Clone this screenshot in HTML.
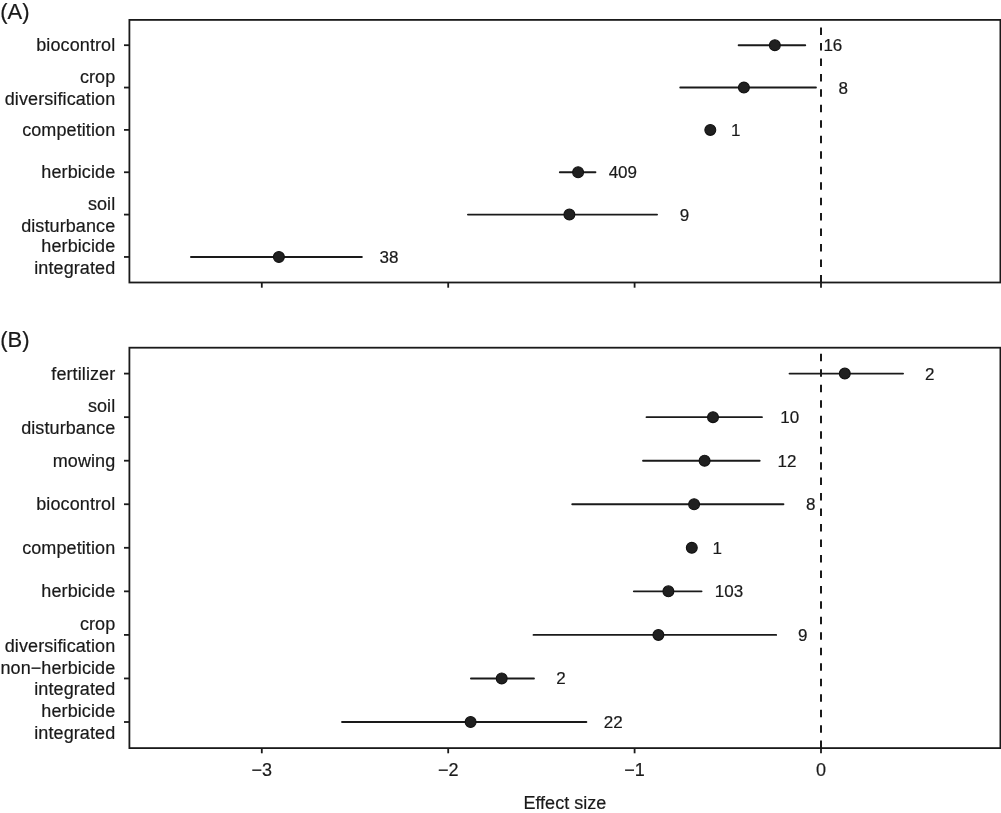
<!DOCTYPE html>
<html><head><meta charset="utf-8"><style>
html,body{margin:0;padding:0;background:#fff;}
svg{display:block;will-change:transform;}
.yl{letter-spacing:0.1px;}
text{font-family:"Liberation Sans",sans-serif;font-size:18px;fill:#1a1a1a;stroke:#1a1a1a;stroke-width:0.2px;}
</style></head><body>
<svg width="1001" height="813" viewBox="0 0 1001 813">
<rect width="1001" height="813" fill="#fff"/>
<text x="0.3" y="18.6" style="font-size:22px">(A)</text>
<line x1="821.0" y1="282.5" x2="821.0" y2="19.9" stroke="#1a1a1a" stroke-width="2" stroke-dasharray="7.5 7.97"/>
<rect x="129.4" y="19.9" width="871.0" height="262.6" fill="none" stroke="#1a1a1a" stroke-width="1.8"/>
<line x1="261.79999999999995" y1="282.5" x2="261.79999999999995" y2="287.7" stroke="#1a1a1a" stroke-width="1.8"/>
<line x1="448.2" y1="282.5" x2="448.2" y2="287.7" stroke="#1a1a1a" stroke-width="1.8"/>
<line x1="634.6" y1="282.5" x2="634.6" y2="287.7" stroke="#1a1a1a" stroke-width="1.8"/>
<line x1="821.0" y1="282.5" x2="821.0" y2="287.7" stroke="#1a1a1a" stroke-width="1.8"/>
<line x1="124.0" y1="45.2" x2="129.4" y2="45.2" stroke="#1a1a1a" stroke-width="1.8"/>
<text x="115.3" y="51.30" text-anchor="end" class="yl">biocontrol</text>
<line x1="738.6500000000001" y1="45.2" x2="805.25" y2="45.2" stroke="#1a1a1a" stroke-width="1.9" stroke-linecap="round"/>
<circle cx="774.85" cy="45.2" r="5.45" fill="#202020" stroke="#111" stroke-width="1.1"/>
<text x="832.85" y="51.20" text-anchor="middle" style="font-size:17px">16</text>
<line x1="124.0" y1="87.55000000000001" x2="129.4" y2="87.55000000000001" stroke="#1a1a1a" stroke-width="1.8"/>
<text x="115.3" y="82.80" text-anchor="end" class="yl">crop</text>
<text x="115.3" y="104.50" text-anchor="end" class="yl">diversification</text>
<line x1="680.25" y1="87.55000000000001" x2="815.9499999999999" y2="87.55000000000001" stroke="#1a1a1a" stroke-width="1.9" stroke-linecap="round"/>
<circle cx="743.9" cy="87.55000000000001" r="5.45" fill="#202020" stroke="#111" stroke-width="1.1"/>
<text x="843.25" y="93.55" text-anchor="middle" style="font-size:17px">8</text>
<line x1="124.0" y1="129.9" x2="129.4" y2="129.9" stroke="#1a1a1a" stroke-width="1.8"/>
<text x="115.3" y="136.00" text-anchor="end" class="yl">competition</text>
<circle cx="710.3" cy="129.9" r="5.45" fill="#202020" stroke="#111" stroke-width="1.1"/>
<text x="735.85" y="135.90" text-anchor="middle" style="font-size:17px">1</text>
<line x1="124.0" y1="172.25" x2="129.4" y2="172.25" stroke="#1a1a1a" stroke-width="1.8"/>
<text x="115.3" y="178.35" text-anchor="end" class="yl">herbicide</text>
<line x1="559.85" y1="172.25" x2="595.4499999999999" y2="172.25" stroke="#1a1a1a" stroke-width="1.9" stroke-linecap="round"/>
<circle cx="578.1" cy="172.25" r="5.45" fill="#202020" stroke="#111" stroke-width="1.1"/>
<text x="622.85" y="178.25" text-anchor="middle" style="font-size:17px">409</text>
<line x1="124.0" y1="214.60000000000002" x2="129.4" y2="214.60000000000002" stroke="#1a1a1a" stroke-width="1.8"/>
<text x="115.3" y="209.85" text-anchor="end" class="yl">soil</text>
<text x="115.3" y="231.55" text-anchor="end" class="yl">disturbance</text>
<line x1="467.95" y1="214.60000000000002" x2="657.05" y2="214.60000000000002" stroke="#1a1a1a" stroke-width="1.9" stroke-linecap="round"/>
<circle cx="569.4" cy="214.60000000000002" r="5.45" fill="#202020" stroke="#111" stroke-width="1.1"/>
<text x="684.4" y="220.60" text-anchor="middle" style="font-size:17px">9</text>
<line x1="124.0" y1="256.95" x2="129.4" y2="256.95" stroke="#1a1a1a" stroke-width="1.8"/>
<text x="115.3" y="252.20" text-anchor="end" class="yl">herbicide</text>
<text x="115.3" y="273.90" text-anchor="end" class="yl">integrated</text>
<line x1="190.95" y1="256.95" x2="361.85" y2="256.95" stroke="#1a1a1a" stroke-width="1.9" stroke-linecap="round"/>
<circle cx="278.9" cy="256.95" r="5.45" fill="#202020" stroke="#111" stroke-width="1.1"/>
<text x="389.05" y="262.95" text-anchor="middle" style="font-size:17px">38</text>
<text x="0.3" y="346.6" style="font-size:22px">(B)</text>
<line x1="821.0" y1="748.1" x2="821.0" y2="347.7" stroke="#1a1a1a" stroke-width="2" stroke-dasharray="7.5 7.97"/>
<rect x="129.4" y="347.7" width="871.0" height="400.40000000000003" fill="none" stroke="#1a1a1a" stroke-width="1.8"/>
<line x1="261.79999999999995" y1="748.1" x2="261.79999999999995" y2="753.3000000000001" stroke="#1a1a1a" stroke-width="1.8"/>
<line x1="448.2" y1="748.1" x2="448.2" y2="753.3000000000001" stroke="#1a1a1a" stroke-width="1.8"/>
<line x1="634.6" y1="748.1" x2="634.6" y2="753.3000000000001" stroke="#1a1a1a" stroke-width="1.8"/>
<line x1="821.0" y1="748.1" x2="821.0" y2="753.3000000000001" stroke="#1a1a1a" stroke-width="1.8"/>
<line x1="124.0" y1="373.6" x2="129.4" y2="373.6" stroke="#1a1a1a" stroke-width="1.8"/>
<text x="115.3" y="379.70" text-anchor="end" class="yl">fertilizer</text>
<line x1="789.5500000000001" y1="373.6" x2="903.05" y2="373.6" stroke="#1a1a1a" stroke-width="1.9" stroke-linecap="round"/>
<circle cx="844.8" cy="373.6" r="5.45" fill="#202020" stroke="#111" stroke-width="1.1"/>
<text x="929.8" y="379.60" text-anchor="middle" style="font-size:17px">2</text>
<line x1="124.0" y1="417.15000000000003" x2="129.4" y2="417.15000000000003" stroke="#1a1a1a" stroke-width="1.8"/>
<text x="115.3" y="412.40" text-anchor="end" class="yl">soil</text>
<text x="115.3" y="434.10" text-anchor="end" class="yl">disturbance</text>
<line x1="646.5500000000001" y1="417.15000000000003" x2="761.9499999999999" y2="417.15000000000003" stroke="#1a1a1a" stroke-width="1.9" stroke-linecap="round"/>
<circle cx="713.0" cy="417.15000000000003" r="5.45" fill="#202020" stroke="#111" stroke-width="1.1"/>
<text x="789.75" y="423.15" text-anchor="middle" style="font-size:17px">10</text>
<line x1="124.0" y1="460.70000000000005" x2="129.4" y2="460.70000000000005" stroke="#1a1a1a" stroke-width="1.8"/>
<text x="115.3" y="466.80" text-anchor="end" class="yl">mowing</text>
<line x1="643.0500000000001" y1="460.70000000000005" x2="759.65" y2="460.70000000000005" stroke="#1a1a1a" stroke-width="1.9" stroke-linecap="round"/>
<circle cx="704.6" cy="460.70000000000005" r="5.45" fill="#202020" stroke="#111" stroke-width="1.1"/>
<text x="787.0" y="466.70" text-anchor="middle" style="font-size:17px">12</text>
<line x1="124.0" y1="504.25" x2="129.4" y2="504.25" stroke="#1a1a1a" stroke-width="1.8"/>
<text x="115.3" y="510.35" text-anchor="end" class="yl">biocontrol</text>
<line x1="572.25" y1="504.25" x2="783.4499999999999" y2="504.25" stroke="#1a1a1a" stroke-width="1.9" stroke-linecap="round"/>
<circle cx="694.1" cy="504.25" r="5.45" fill="#202020" stroke="#111" stroke-width="1.1"/>
<text x="810.65" y="510.25" text-anchor="middle" style="font-size:17px">8</text>
<line x1="124.0" y1="547.8" x2="129.4" y2="547.8" stroke="#1a1a1a" stroke-width="1.8"/>
<text x="115.3" y="553.90" text-anchor="end" class="yl">competition</text>
<circle cx="691.8" cy="547.8" r="5.45" fill="#202020" stroke="#111" stroke-width="1.1"/>
<text x="717.35" y="553.80" text-anchor="middle" style="font-size:17px">1</text>
<line x1="124.0" y1="591.35" x2="129.4" y2="591.35" stroke="#1a1a1a" stroke-width="1.8"/>
<text x="115.3" y="597.45" text-anchor="end" class="yl">herbicide</text>
<line x1="633.85" y1="591.35" x2="701.55" y2="591.35" stroke="#1a1a1a" stroke-width="1.9" stroke-linecap="round"/>
<circle cx="668.4" cy="591.35" r="5.45" fill="#202020" stroke="#111" stroke-width="1.1"/>
<text x="728.95" y="597.35" text-anchor="middle" style="font-size:17px">103</text>
<line x1="124.0" y1="634.9" x2="129.4" y2="634.9" stroke="#1a1a1a" stroke-width="1.8"/>
<text x="115.3" y="630.15" text-anchor="end" class="yl">crop</text>
<text x="115.3" y="651.85" text-anchor="end" class="yl">diversification</text>
<line x1="533.5500000000001" y1="634.9" x2="776.15" y2="634.9" stroke="#1a1a1a" stroke-width="1.9" stroke-linecap="round"/>
<circle cx="658.4" cy="634.9" r="5.45" fill="#202020" stroke="#111" stroke-width="1.1"/>
<text x="802.85" y="640.90" text-anchor="middle" style="font-size:17px">9</text>
<line x1="124.0" y1="678.45" x2="129.4" y2="678.45" stroke="#1a1a1a" stroke-width="1.8"/>
<text x="115.3" y="673.70" text-anchor="end" class="yl">non−herbicide</text>
<text x="115.3" y="695.40" text-anchor="end" class="yl">integrated</text>
<line x1="470.95" y1="678.45" x2="533.9499999999999" y2="678.45" stroke="#1a1a1a" stroke-width="1.9" stroke-linecap="round"/>
<circle cx="501.7" cy="678.45" r="5.45" fill="#202020" stroke="#111" stroke-width="1.1"/>
<text x="561.0" y="684.45" text-anchor="middle" style="font-size:17px">2</text>
<line x1="124.0" y1="722.0" x2="129.4" y2="722.0" stroke="#1a1a1a" stroke-width="1.8"/>
<text x="115.3" y="717.25" text-anchor="end" class="yl">herbicide</text>
<text x="115.3" y="738.95" text-anchor="end" class="yl">integrated</text>
<line x1="342.05" y1="722.0" x2="586.3499999999999" y2="722.0" stroke="#1a1a1a" stroke-width="1.9" stroke-linecap="round"/>
<circle cx="470.6" cy="722.0" r="5.45" fill="#202020" stroke="#111" stroke-width="1.1"/>
<text x="613.3" y="728.00" text-anchor="middle" style="font-size:17px">22</text>
<text x="261.79999999999995" y="775.9" text-anchor="middle">−3</text>
<text x="448.2" y="775.9" text-anchor="middle">−2</text>
<text x="634.6" y="775.9" text-anchor="middle">−1</text>
<text x="821.0" y="775.9" text-anchor="middle">0</text>
<text x="564.8" y="808.8" text-anchor="middle">Effect size</text>
</svg>
</body></html>
